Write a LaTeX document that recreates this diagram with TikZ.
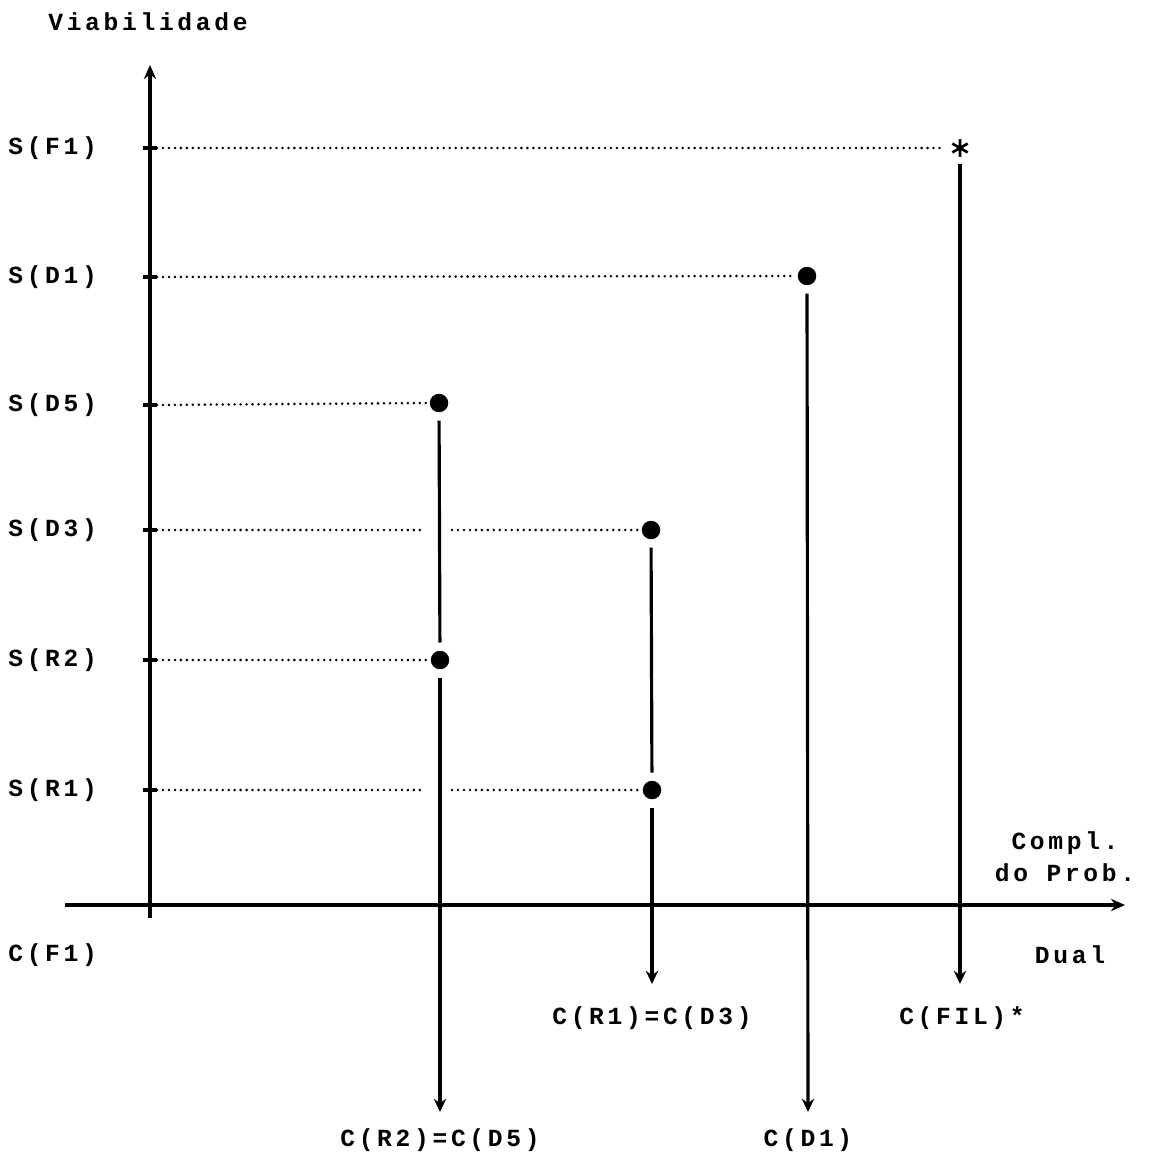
\documentclass[tikz,border=0pt]{standalone}
\usepackage{fontspec}
\newfontfamily\dotfont[LetterSpace=15]{Liberation Mono}
\usetikzlibrary{arrows.meta}
\begin{document}
\begin{tikzpicture}[x=0.02cm,y=-0.02cm,
  lbl/.style={font=\dotfont\bfseries\fontsize{14}{18}\selectfont, inner sep=0pt},
  pt/.style={circle, fill=black, inner sep=0pt, minimum size=0.37cm},
  dotl/.style={line width=1.6pt, dash pattern=on 0pt off 3.4pt, line cap=round},
  axisl/.style={line width=2pt, -{Stealth[length=8pt,width=7pt]}},
  vline/.style={line width=1.8pt},
  varrow/.style={line width=1.8pt, -{Stealth[length=7.5pt,width=7pt]}},
  tick/.style={line width=2pt}]
\fill[white] (0,0) rectangle (1152,1162);
\useasboundingbox (0,0) rectangle (1152,1162);

% axes
\coordinate (yb) at (150,918);
\coordinate (yt) at (150,65);
\coordinate (xl) at (65,905);
\coordinate (xr) at (1125,905);
\draw[axisl] (yb) -- (yt);
\draw[axisl] (xl) -- (xr);

% axis labels
\node[lbl, anchor=west] (viab) at (48,22) {Viabilidade};
\node[lbl, align=center] (compl) at (1065,857) {Compl.\\do Prob.};
\node[lbl] (dual) at (1070,955) {Dual};
\node[lbl, anchor=west] (cF1) at (8,955) {C(F1)};

% y ticks and labels
\foreach \n/\y/\t in {F1/148/S(F1), D1/277/S(D1), D5/405/S(D5), D3/530/S(D3), R2/660/S(R2), R1/790/S(R1)}{
  \coordinate (tl\n) at (143,\y);
  \coordinate (tr\n) at (157,\y);
  \draw[tick] (tl\n) -- (tr\n);
  \node[lbl, anchor=west] (s\n) at (8,\y) {\t};
}

% points
\node[inner sep=0pt, minimum size=0.34cm, circle] (dF1) at (960,148) {};
\draw[line width=1.5pt] (dF1.90) -- (dF1.270) (dF1.30) -- (dF1.210) (dF1.150) -- (dF1.330);
\node[pt] (dD1) at (807,276) {};
\node[pt] (dD5) at (439,403) {};
\node[pt] (dD3) at (651,530) {};
\node[pt] (dR2) at (440,660) {};
\node[pt] (dR1) at (652,790) {};

% dotted lines
\draw[dotl] (trF1) -- ([xshift=-4pt]dF1.west);
\draw[dotl] (trD1) -- ([xshift=-1pt]dD1.west);
\draw[dotl] (trD5) -- ([xshift=-1pt]dD5.west);
\coordinate (g3a) at (425,530);
\coordinate (g3b) at (452,530);
\draw[dotl] (trD3) -- (g3a);
\draw[dotl] (g3b) -- ([xshift=-1pt]dD3.west);
\draw[dotl] (trR2) -- ([xshift=-1pt]dR2.west);
\coordinate (g1a) at (425,790);
\coordinate (g1b) at (452,790);
\draw[dotl] (trR1) -- (g1a);
\draw[dotl] (g1b) -- ([xshift=-1pt]dR1.west);

% arrow ends
\coordinate (aR2) at (440,1112);
\coordinate (aD1) at (808,1112);
\coordinate (aR1) at (652,984);
\coordinate (aFIL) at (960,984);

% vertical lines
\draw[vline, shorten <=4.5pt, shorten >=4.5pt] (dD5) -- (dR2);
\draw[varrow, shorten <=4.5pt] (dR2) -- (aR2);
\draw[varrow, shorten <=4.5pt] (dD1) -- (aD1);
\draw[vline, shorten <=4.5pt, shorten >=4.5pt] (dD3) -- (dR1);
\draw[varrow, shorten <=4.5pt] (dR1) -- (aR1);
\draw[varrow, shorten <=4pt] (dF1) -- (aFIL);

% bottom labels
\node[lbl] (cR2) at (440,1140) {C(R2)=C(D5)};
\node[lbl] (cD1) at (808,1140) {C(D1)};
\node[lbl] (cR1) at (652,1018) {C(R1)=C(D3)};
\node[lbl] (cFIL) at (962,1018) {C(FIL)*};
\end{tikzpicture}
\end{document}
